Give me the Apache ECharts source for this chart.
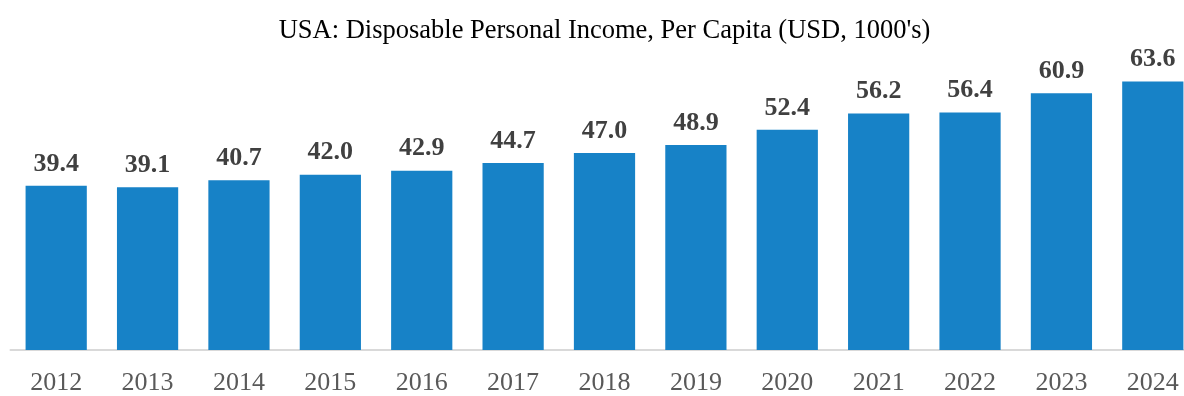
<!DOCTYPE html>
<html><head><meta charset="utf-8">
<script src="https://cdn.jsdelivr.net/npm/echarts@6/dist/echarts.min.js"></script>
<style>html,body{margin:0;padding:0;background:#fff;overflow:hidden}#c{width:1209px;height:396px}</style>
</head><body><div id="c"></div>
<script>
const years = ['2012','2013','2014','2015','2016','2017','2018','2019','2020','2021','2022','2023','2024'];
const values = [39.4,39.1,40.7,42.0,42.9,44.7,47.0,48.9,52.4,56.2,56.4,60.9,63.6];
const titleText = "USA: Disposable Personal Income, Per Capita (USD, 1000's)";
const chart = echarts.init(document.getElementById('c'));
chart.setOption({
  animation:false,
  title:{text:titleText,left:'center',top:13,textStyle:{fontFamily:'Liberation Serif',fontSize:26.5,fontWeight:'normal',color:'#000'}},
  grid:{left:10.5,right:10.5,top:54,bottom:43,containLabel:false},
  xAxis:{type:'category',data:years,
    axisLine:{lineStyle:{color:'#d9d9d9',width:2}},axisTick:{show:false},
    axisLabel:{fontFamily:'Liberation Serif',fontSize:26,color:'#595959',margin:20}},
  yAxis:{type:'value',min:1.3,max:70,show:false,splitLine:{show:false}},
  series:[{type:'bar',data:values,barCategoryGap:'33%',
    itemStyle:{color:'#1782C7'},
    label:{show:true,position:'top',distance:9,fontFamily:'Liberation Serif',fontSize:26,fontWeight:'bold',color:'#404040',
      formatter:p=>p.value.toFixed(1)}}]
});
</script></body></html>
